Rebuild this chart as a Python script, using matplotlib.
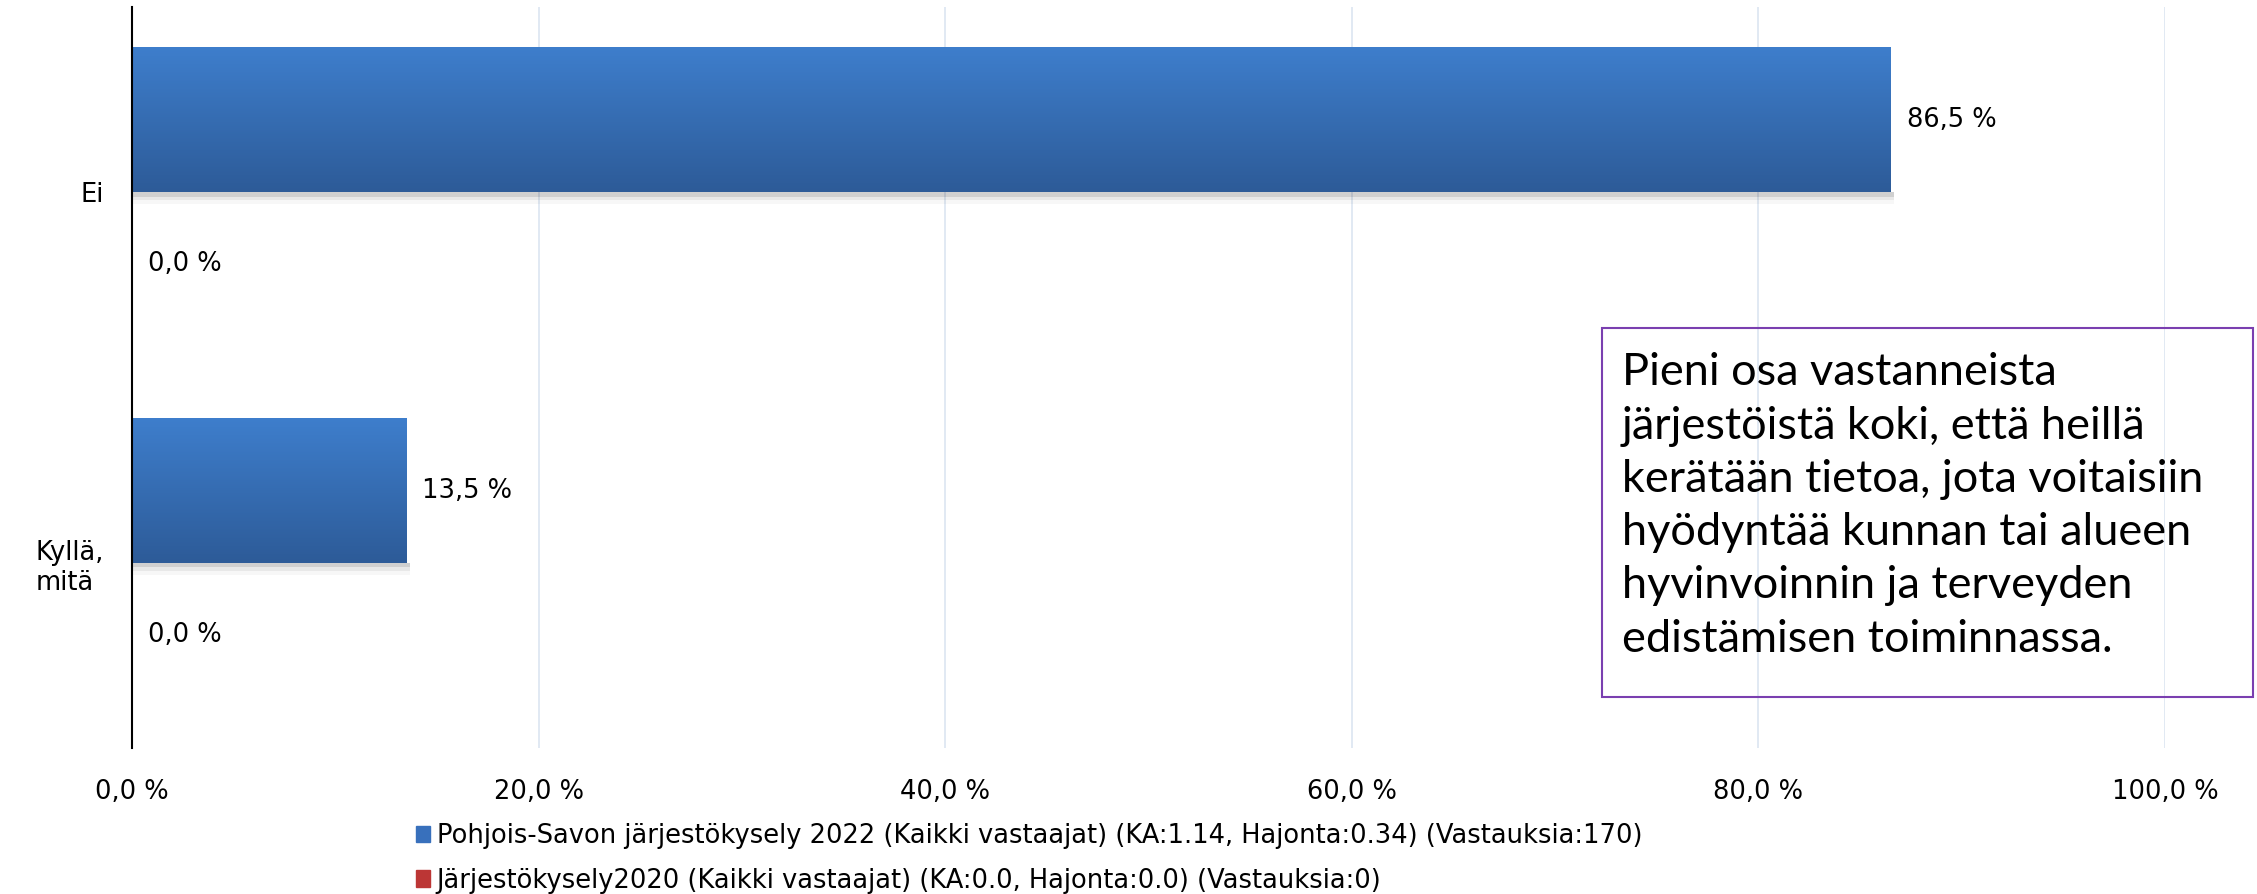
import numpy as np
import matplotlib
matplotlib.use("Agg")
import matplotlib.pyplot as plt
from matplotlib.patches import Rectangle
from matplotlib.colors import LinearSegmentedColormap

# data
categories = ["Ei", "Kyllä,\nmitä"]
values_2022 = [86.5, 13.5]
values_2020 = [0.0, 0.0]
series_labels = [
    "Pohjois-Savon järjestökysely 2022 (Kaikki vastaajat) (KA:1.14, Hajonta:0.34) (Vastauksia:170)",
    "Järjestökysely2020 (Kaikki vastaajat) (KA:0.0, Hajonta:0.0) (Vastauksia:0)",
]
xticks = [0, 20, 40, 60, 80, 100]
note = ("Pieni osa vastanneista\njärjestöistä koki, että heillä\n"
        "kerätään tietoa, jota voitaisiin\nhyödyntää kunnan tai alueen\n"
        "hyvinvoinnin ja terveyden\nedistämisen toiminnassa.")

BLUE_TOP, BLUE_BOT = "#3E7ECC", "#2D5B98"
RED_TOP, RED_BOT = "#D2423F", "#A12D2C"
W, H = 2257, 894
FS = 18.5

plt.rcParams['font.family'] = ['DejaVu Sans']

fig = plt.figure(figsize=(W / 100, H / 100), dpi=100)
ax = fig.add_axes([132 / W, 1 - 748 / H, (2165 - 132) / W, (748 - 7) / H])

y = np.arange(len(categories))
bh = 0.39
bars = ax.barh(y - bh / 2, values_2022, height=bh, color=BLUE_BOT, zorder=3)
bars2 = ax.barh(y + bh / 2, values_2020, height=bh, color=RED_BOT, zorder=3)

# gradient fill + soft shadow for each bar
grad = np.linspace(0, 1, 256).reshape(-1, 1)
cmap_b = LinearSegmentedColormap.from_list("b", [BLUE_TOP, BLUE_BOT])
for p in bars:
    x0, y0 = p.get_x(), p.get_y()
    w, h = p.get_width(), p.get_height()
    if w <= 0:
        continue
    for k, a in [(0.012, 0.10), (0.022, 0.06), (0.032, 0.03)]:
        ax.add_patch(Rectangle((x0, y0 + h), w + 0.15, k, color="k", alpha=a, lw=0, zorder=2))
    ax.imshow(grad, cmap=cmap_b, aspect="auto", origin="upper",
              extent=(x0, x0 + w, y0 + h, y0), zorder=4)

ax.set_xlim(0, 100)
ax.set_ylim(1.5, -0.5)

# value labels
for p, v in zip(list(bars) + list(bars2), values_2022 + values_2020):
    txt = ("%.1f %%" % v).replace(".", ",")
    ax.annotate(txt, (p.get_width(), p.get_y() + p.get_height() / 2),
                xytext=(16, 0), textcoords="offset pixels",
                va="center", ha="left", fontsize=FS)

ax.set_yticks(y)
ax.set_yticklabels(categories, fontsize=FS)
for lab in ax.get_yticklabels():
    lab.set_multialignment("left")
ax.set_xticks(xticks)
ax.set_xticklabels([("%.1f %%" % t).replace(".", ",") for t in xticks], fontsize=FS)
ax.tick_params(axis="y", length=0, pad=20)
ax.tick_params(axis="x", length=0, pad=22)

ax.grid(axis="x", color="#DCE5F1", lw=1.2, zorder=0)
ax.xaxis.get_gridlines()[0].set_visible(False)
for s in ["top", "right", "bottom"]:
    ax.spines[s].set_visible(False)
ax.spines["left"].set_color("black")
ax.spines["left"].set_linewidth(1.5)
ax.spines["left"].set_zorder(5)

# legend
handles = [Rectangle((0, 0), 1, 1, color="#3870BC"), Rectangle((0, 0), 1, 1, color="#BC3635")]
fig.legend(handles, series_labels, loc="upper left", bbox_to_anchor=(416 / W, 1 - 823 / H),
           frameon=False, fontsize=FS, handlelength=0.55, handleheight=0.6,
           handletextpad=0.25, labelspacing=0.72, borderpad=0, borderaxespad=0)

# note box
fig.add_artist(Rectangle((1602 / W, 1 - 697 / H), (2253 - 1602) / W, (697 - 328) / H,
                         transform=fig.transFigure, fill=False, ec="#7A3FB0", lw=1.5))
fig.text(1622 / W, 1 - 506 / H, note, fontsize=32.5, family="Lato", va="center", ha="left",
         linespacing=1.37)

fig.savefig("out.png", dpi=100)
